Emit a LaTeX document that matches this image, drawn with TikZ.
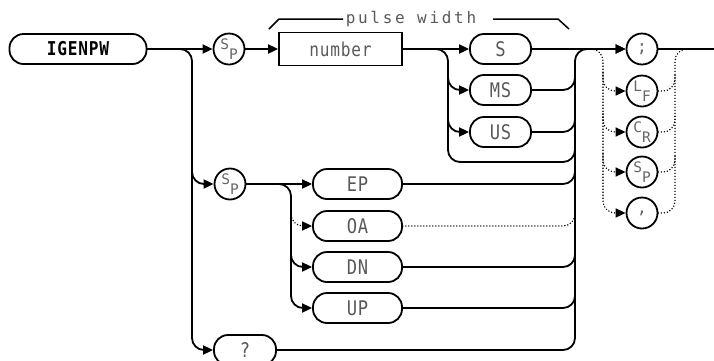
\documentclass[tikz,border=0pt]{standalone}
\usepackage{fontspec}
\usepackage{graphicx}
\newfontfamily\hpfont[LetterSpace=5]{DejaVu Sans Mono}
\newfontfamily\hpwide[LetterSpace=17]{DejaVu Sans Mono}
\usetikzlibrary{arrows.meta}
\newcommand\subpair[2]{\raisebox{5pt}{#1}\raisebox{-5pt}{#2}}
\newcommand\tall[1]{\scalebox{0.95}[1.12]{#1}}
\begin{document}
\begin{tikzpicture}[x=1pt,y=-1pt,
  wire/.style={line width=1.8pt, line join=round},
  dots/.style={line width=1.6pt, dash pattern=on 0pt off 3pt, line cap=round},
  tip/.style={-{Triangle[length=10pt,width=9pt]}},
  kw/.style={draw, line width=1.8pt, rounded corners=14pt, minimum height=30pt, inner sep=0pt,
             font=\hpfont\fontsize{18}{18}\selectfont, text=black!65},
  term/.style={draw, circle, line width=1.8pt, minimum size=31pt, inner sep=0pt,
             font=\hpfont\fontsize{14.5}{14.5}\selectfont, text=black!60},
  rc/.style={rounded corners=12pt}
]
\useasboundingbox (0,0) rectangle (714,360);
% nodes
\node[kw, minimum width=137pt, font=\hpfont\bfseries\fontsize{17}{17}\selectfont, text=black] (igenpw) at (78,49) {\tall{IGENPW}};
\node[term] (sp1) at (229,49) {\subpair{S}{P}};
\node[draw, line width=1.8pt, minimum width=123pt, minimum height=33pt, inner sep=0pt,
      font=\hpfont\fontsize{17}{17}\selectfont, text=black!65] (number) at (340.5,49) {\tall{number}};
\node[kw, minimum width=61pt] (S) at (500.5,49) {\tall{S}};
\node[kw, minimum width=61pt] (MS) at (500.5,90) {\tall{MS}};
\node[kw, minimum width=61pt] (US) at (500.5,132) {\tall{US}};
\node[term] (sp2) at (230,184) {\subpair{S}{P}};
\node[kw, minimum width=89pt] (EP) at (357.5,184) {\tall{EP}};
\node[kw, minimum width=89pt] (OA) at (357.5,226) {\tall{OA}};
\node[kw, minimum width=89pt] (DN) at (357.5,267) {\tall{DN}};
\node[kw, minimum width=89pt] (UP) at (357.5,308) {\tall{UP}};
\node[kw, minimum width=62pt] (Q) at (245,350) {\tall{?}};
\node[term, font=\hpfont\fontsize{17}{17}\selectfont] (semi) at (642,49) {;};
\node[term] (LF) at (642,91) {\subpair{L}{F}};
\node[term] (CR) at (642,132) {\subpair{C}{R}};
\node[term] (SPt) at (642,172) {\subpair{S}{P}};
\node[term, font=\hpfont\fontsize{17}{17}\selectfont] (comma) at (642,213) {,};
\node[font=\hpwide\fontsize{16}{16}\selectfont, text=black!65, inner sep=0pt] (pw) at (411,19) {pulse width};
% coordinates
\coordinate (vL) at (192,49);
\coordinate (vE) at (291,184);
\coordinate (vS) at (448,49);
\coordinate (col) at (575,49);
\coordinate (dL) at (603,49);
\coordinate (dR) at (675,49);
\coordinate (outend) at (714,49);
% bracket
\draw[line width=1.5pt] (269,29) -- (279,19) -- (343,19);
\draw[line width=1.5pt] (493,19) -- (558,19) -- (569,29);
% main line
\draw[wire,tip] (igenpw) -- (sp1);
\draw[wire,tip] (sp1) -- (number);
\draw[wire,tip] (number) -- (S);
\draw[wire,tip] (S) -- (semi);
\draw[wire] (semi) -- (outend);
% left branch
\draw[wire,rc,tip] (igenpw.east) -- (vL) -- (vL |- Q.west) -- (Q.west);
\draw[wire,rc,tip] (192,160) -- (vL |- sp2.west) -- (sp2.west);
% EP group
\draw[wire,tip] (sp2) -- (EP);
\draw[wire,rc,tip] (sp2.east) -- (vE) -- (vE |- UP.west) -- (UP.west);
\draw[wire,rc,tip] (291,250) -- (vE |- DN.west) -- (DN.west);
\draw[dots,rc,tip] (291,206) -- (vE |- OA.west) -- (OA.west);
% S group
\draw[wire,rc] (number.east) -- (vS) -- (448,162) -- (575,162) -- (575,140);
\draw[wire,rc,tip] (448,72) -- (vS |- MS.west) -- (MS.west);
\draw[wire,rc,tip] (448,114) -- (vS |- US.west) -- (US.west);
% collector
\draw[wire,rc,tip] (Q.east) -- (575,350) -- (col) -- (semi.west);
\draw[wire,rc] (MS.east) -- (575,90) -- (575,72);
\draw[wire,rc] (US.east) -- (575,132) -- (575,114);
\draw[wire,rc] (EP.east) -- (575,184) -- (575,166);
\draw[dots,rc] (OA.east) -- (575,226) -- (575,208);
\draw[wire,rc] (DN.east) -- (575,267) -- (575,249);
\draw[wire,rc] (UP.east) -- (575,308) -- (575,290);
% terminators
\draw[dots,rc,tip] (588,49) -- (dL) -- (dL |- comma.west) -- (comma.west);
\draw[dots,rc,tip] (603,73) -- (dL |- LF.west) -- (LF.west);
\draw[dots,rc,tip] (603,114) -- (dL |- CR.west) -- (CR.west);
\draw[dots,rc,tip] (603,154) -- (dL |- SPt.west) -- (SPt.west);
\draw[dots,rc] (comma.east) -- (dR |- comma.east) -- (dR) -- (690,49);
\draw[dots,rc] (LF.east) -- (dR |- LF.east) -- (675,73);
\draw[dots,rc] (CR.east) -- (dR |- CR.east) -- (675,114);
\draw[dots,rc] (SPt.east) -- (dR |- SPt.east) -- (675,154);
\end{tikzpicture}
\end{document}
